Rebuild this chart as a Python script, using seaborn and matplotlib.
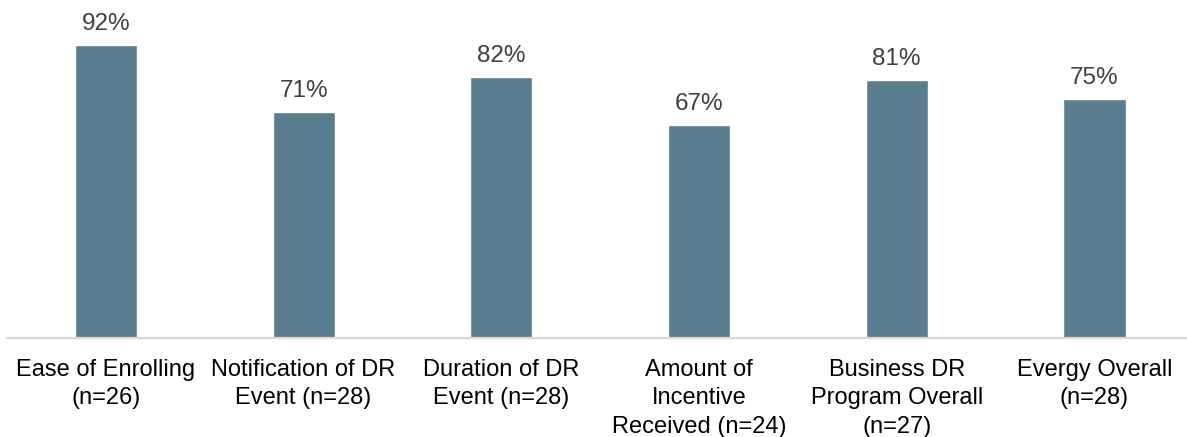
import matplotlib
matplotlib.use("Agg")
import matplotlib.pyplot as plt
import seaborn as sns
import pandas as pd

categories = [
    "Ease of Enrolling\n(n=26)",
    "Notification of DR\nEvent (n=28)",
    "Duration of DR\nEvent (n=28)",
    "Amount of\nIncentive\nReceived (n=24)",
    "Business DR\nProgram Overall\n(n=27)",
    "Evergy Overall\n(n=28)",
]
satisfaction = [92, 71, 82, 67, 81, 75]

df = pd.DataFrame({"category": categories, "pct": satisfaction})

sns.set_theme(style="white")
plt.rcParams["font.family"] = ["Liberation Sans", "DejaVu Sans"]

W, H = 1187, 437
fig = plt.figure(figsize=(W / 100, H / 100), dpi=100)
ax = fig.add_axes([7 / W, (H - 338) / H, (W - 7) / W, 338 / H])

bar_color = "#5B7D90"
sns.barplot(data=df, x="category", y="pct", color=bar_color, width=0.314,
            saturation=1, ax=ax)

ax.set_xlim(-0.5, 5.468)
ax.set_ylim(0, 106.1)

for i, v in enumerate(satisfaction):
    ax.text(i, v + 4.7, f"{v}%", ha="center", va="baseline",
            fontsize=17.5, color="#404040")

ax.set_xlabel("")
ax.set_ylabel("")
ax.set_yticks([])
ax.tick_params(axis="x", length=0, pad=15, labelsize=17, labelcolor="#000000")
for lbl in ax.get_xticklabels():
    lbl.set_linespacing(1.38)

for side in ["top", "right", "left"]:
    ax.spines[side].set_visible(False)
ax.spines["bottom"].set_color("#D9D9D9")
ax.spines["bottom"].set_linewidth(1.6)

fig.savefig("out.png", dpi=100)
